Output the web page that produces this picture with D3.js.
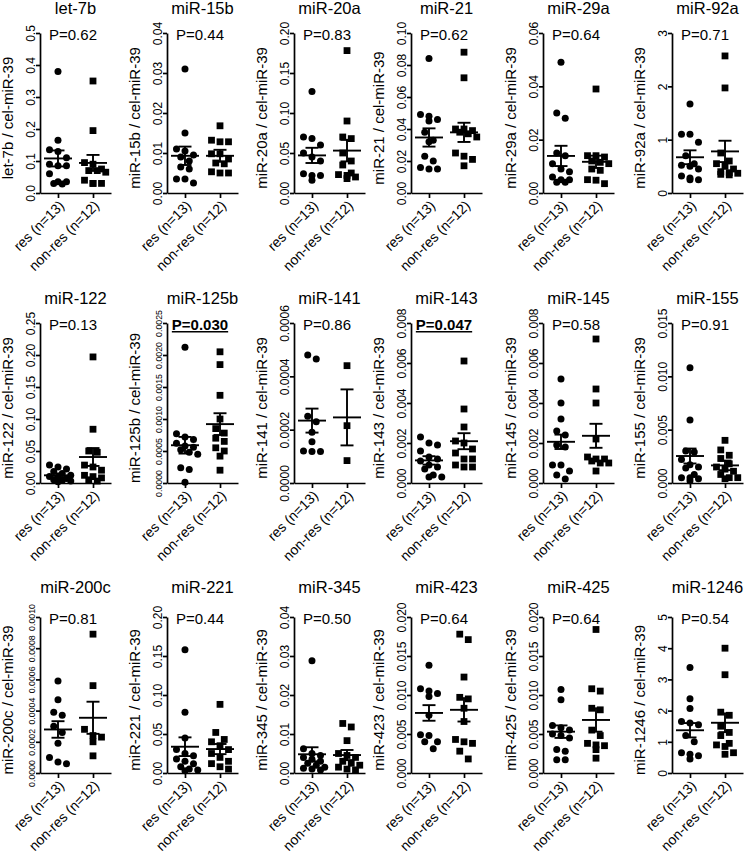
<!DOCTYPE html>
<html><head><meta charset="utf-8">
<script src="https://cdn.jsdelivr.net/npm/d3@7"></script>
<style>
body{margin:0;background:#fff}
text{font-family:"Liberation Sans",Arial,sans-serif;fill:#000}
</style>
</head><body>
<svg id="chart" width="745" height="856"></svg>
<script>
// ---------------- data ----------------
const names = ["let-7b","miR-15b","miR-20a","miR-21","miR-29a","miR-92a",
  "miR-122","miR-125b","miR-141","miR-143","miR-145","miR-155",
  "miR-200c","miR-221","miR-345","miR-423","miR-425","miR-1246"];
const pLabels = ["P=0.62","P=0.44","P=0.83","P=0.62","P=0.64","P=0.71",
  "P=0.13","P=0.030","P=0.86","P=0.047","P=0.58","P=0.91",
  "P=0.81","P=0.44","P=0.50","P=0.64","P=0.64","P=0.54"];
const significant = [false,false,false,false,false,false,
  false,true,false,true,false,false,
  false,false,false,false,false,false];
const groups = ["res (n=13)","non-res (n=12)"];
const yMax  = [0.5,0.04,0.20,0.10,0.06,3, 0.25,0.0025,0.0006,0.008,0.008,0.015, 0.0010,0.20,0.04,0.020,0.020,5];
const yStep = [0.1,0.01,0.05,0.02,0.02,1, 0.05,0.0005,0.0002,0.002,0.002,0.005, 0.0002,0.05,0.01,0.005,0.005,1];
const yFormat = [".1f",".2f",".2f",".2f",".2f","d", ".2f",".4f",".4f",".3f",".3f",".3f", ".4f",".2f",".2f",".3f",".3f","d"];
const smallTicks = [false,false,false,false,false,false, false,true,false,false,false,false, true,false,false,false,false,false];

const resValues = [
  [0.38,0.165,0.135,0.13,0.11,0.09,0.085,0.085,0.06,0.035,0.035,0.03,0.028],
  [0.031,0.015,0.011,0.0105,0.0095,0.009,0.008,0.0065,0.006,0.0035,0.0035,0.0025],
  [0.127,0.07,0.068,0.06,0.05,0.045,0.04,0.024,0.022,0.022,0.016],
  [0.084,0.049,0.048,0.046,0.045,0.038,0.032,0.033,0.023,0.02,0.016,0.015,0.015],
  [0.049,0.03,0.028,0.014,0.015,0.011,0.009,0.008,0.006,0.005,0.005,0.004,0.004],
  [1.67,1.1,1.1,0.95,0.7,0.55,0.52,0.5,0.45,0.32,0.28,0.25,0.25],
  [0.028,0.025,0.022,0.018,0.015,0.012,0.01,0.009,0.007,0.005,0.004,0.003,0.002],
  [0.00212,0.00077,0.00072,0.00068,0.00062,0.00058,0.00056,0.00052,0.00048,0.00045,0.00024,0.00021,0.00001],
  [0.00048,0.000465,0.00025,0.00023,0.00019,0.000155,0.00012,0.000118,0.000118],
  [0.0023,0.002,0.0019,0.0016,0.0013,0.0012,0.0011,0.0009,0.0008,0.0007,0.0004,0.0003,0.0003],
  [0.0052,0.004,0.0032,0.0026,0.0024,0.0019,0.0018,0.0009,0.0009,0.0006,0.0004,0.0002],
  [0.0108,0.0059,0.003,0.0029,0.0022,0.0017,0.0015,0.0014,0.0008,0.0005,0.0005,0.0004,0.0002],
  [0.00059,0.00047,0.00039,0.00037,0.0003,0.00026,0.00019,0.0001,0.00007,0.00006],
  [0.158,0.078,0.045,0.03,0.025,0.022,0.018,0.015,0.012,0.008,0.005,0.004,0.003],
  [0.0288,0.0062,0.005,0.0045,0.004,0.0035,0.003,0.0025,0.002,0.0015,0.0012,0.001,0.0008],
  [0.0138,0.0108,0.0105,0.0102,0.0098,0.0074,0.0049,0.0048,0.004,0.004,0.0031],
  [0.0107,0.0094,0.0061,0.0058,0.0055,0.005,0.0048,0.0045,0.003,0.0028,0.0017,0.0017],
  [3.38,2.38,2.07,1.65,1.6,1.55,1.2,1.0,0.65,0.6,0.55,0.45]
];
const nonresValues = [
  [0.35,0.195,0.095,0.09,0.075,0.07,0.07,0.065,0.04,0.03,0.03,0.03],
  [0.0168,0.0128,0.0128,0.0132,0.0098,0.0098,0.0085,0.0075,0.0073,0.0053,0.005,0.005],
  [0.178,0.09,0.07,0.068,0.05,0.04,0.035,0.025,0.023,0.022,0.02,0.018],
  [0.088,0.072,0.04,0.04,0.039,0.038,0.037,0.035,0.025,0.023,0.021,0.017],
  [0.039,0.014,0.014,0.0135,0.012,0.0115,0.011,0.009,0.0085,0.005,0.0048,0.0035],
  [2.57,1.97,0.75,0.6,0.55,0.5,0.45,0.4,0.38,0.37,0.35,0.34],
  [0.197,0.084,0.05,0.048,0.028,0.025,0.02,0.012,0.01,0.008,0.005,0.003],
  [0.00205,0.00185,0.00137,0.001,0.00085,0.00078,0.0007,0.00065,0.00055,0.0005,0.00042,0.0002],
  [0.00044,0.000215,0.000084],
  [0.0061,0.0037,0.0028,0.0021,0.002,0.0017,0.0015,0.0012,0.0012,0.0009,0.0008,0.0008],
  [0.0072,0.0047,0.004,0.0022,0.0013,0.0012,0.0012,0.0011,0.001,0.001,0.0006],
  [0.004,0.0031,0.0026,0.0023,0.0018,0.0015,0.0013,0.0011,0.0008,0.0005,0.0005,0.0004],
  [0.00089,0.00056,0.00028,0.00024,0.00023,0.0002,0.00011],
  [0.088,0.052,0.043,0.04,0.035,0.03,0.025,0.02,0.015,0.012,0.008,0.005],
  [0.0127,0.0118,0.0083,0.005,0.0045,0.004,0.003,0.0025,0.002,0.0015,0.001,0.0008],
  [0.0178,0.0171,0.0123,0.0097,0.0095,0.0083,0.0066,0.0043,0.004,0.0038,0.0028,0.0018],
  [0.0184,0.0108,0.0105,0.0083,0.0081,0.0055,0.0048,0.0038,0.0036,0.0035,0.003,0.0019],
  [4.0,3.15,1.95,1.85,1.5,1.3,1.2,0.95,0.9,0.85,0.65,0.6]
];
// mean and SEM as drawn in the figure
const resMean = [0.108,0.0093,0.047,0.0347,0.0139,0.67, 0.012,0.00059,0.000234,0.00113,0.00206,0.00253, 0.000279,0.0337,0.0048,0.0077,0.0053,1.37];
const resSem  = [0.025,0.0023,0.0095,0.0057,0.0038,0.13, 0.003,0.00013,0.000045,0.00021,0.00036,0.0007, 0.000053,0.012,0.0018,0.001,0.0008,0.23];
const nonresMean = [0.094,0.0093,0.053,0.0379,0.0117,0.78, 0.0406,0.00092,0.000246,0.00209,0.00236,0.00165, 0.000354,0.0307,0.0046,0.0081,0.0068,1.61];
const nonresSem  = [0.025,0.0015,0.0135,0.006,0.0023,0.2, 0.014,0.00017,0.000105,0.0004,0.0006,0.00045, 0.000103,0.0065,0.0013,0.0015,0.0015,0.3];

// ---------------- layout ----------------
const colX = [40,167,294,411,543,672];
const rowTop = [33,323,617];
const rowBottom = [193,483,773];
const titleY = [14,304,593];
const plotW = 71;
const dotGap = 8.5, maxPerRow = 3;
const FONT = '"Liberation Sans",Arial,sans-serif';

const svg = d3.select("#chart");

function swarm(values, y, cx) {
  const pts = values.map(v => ({v, py: y(v)})).sort((a,b) => a.py - b.py);
  const rows = [];
  let cur = null, shift = 0;
  pts.forEach(p => {
    if (cur && p.py - cur.y0 < dotGap * 0.95) {
      if (cur.pts.length < maxPerRow) { cur.pts.push(p); return; }
      shift = shift ? 0 : dotGap / 2;
    } else shift = 0;
    cur = {y0: p.py, pts: [p], shift};
    rows.push(cur);
  });
  rows.forEach(r => r.pts.forEach((p, i) => {
    p.px = cx + (i - (r.pts.length - 1) / 2) * dotGap + (r.pts.length < maxPerRow ? 0 : r.shift);
  }));
  return pts;
}

names.forEach((name, i) => {
  const row = Math.floor(i / 6), col = i % 6;
  const ax = colX[col], top = rowTop[row], bottom = rowBottom[row];
  const g = svg.append("g");

  const y = d3.scaleLinear().domain([0, yMax[i]]).range([bottom, top]);
  const x = d3.scalePoint().domain(groups).range([ax, ax + plotW]).padding(0.514);

  // title
  g.append("text").attr("x", ax + plotW / 2).attr("y", titleY[row])
    .attr("text-anchor", "middle").style("font-size", "16.5px").text(name);

  // P value
  const pt = g.append("text").attr("x", ax + 33).attr("y", top + 7)
    .attr("text-anchor", "middle").style("font-size", "15px").text(pLabels[i]);
  if (significant[i]) pt.style("font-weight", "bold").style("text-decoration", "underline");

  // y axis
  const ticks = d3.range(0, yMax[i] + yStep[i] / 2, yStep[i]);
  const yAx = g.append("g").attr("transform", `translate(${ax},0)`)
    .call(d3.axisLeft(y).tickValues(ticks).tickFormat(d3.format(yFormat[i])).tickSize(4).tickSizeOuter(0));
  yAx.selectAll("path,line").attr("stroke", "#000").attr("stroke-width", 1.7);
  yAx.selectAll("text").attr("transform", "rotate(-90)").attr("x", 0).attr("y", -5).attr("dy", 0)
    .attr("text-anchor", "middle").attr("fill", "#000").style("font-size", smallTicks[i] ? "8.8px" : "12px")
    .style("font-family", FONT);

  // y label
  g.append("text").attr("transform", `translate(${ax - 32},${(top + bottom) / 2 + 5}) rotate(-90)`)
    .attr("text-anchor", "middle").attr("dy", "0.35em").style("font-size", "15px")
    .text(name + " / cel-miR-39");

  // x axis
  const xAx = g.append("g").attr("transform", `translate(0,${bottom})`)
    .call(d3.axisBottom(x).tickSize(5).tickSizeOuter(0));
  xAx.selectAll("path,line").attr("stroke", "#000").attr("stroke-width", 1.7);
  xAx.selectAll("text").attr("x", 0).attr("y", 0).attr("dy", "0.35em")
    .attr("transform", "translate(3,10) rotate(-45)").attr("text-anchor", "end").attr("fill", "#000")
    .style("font-size", "14px").style("font-family", FONT);

  // points
  const resPts = swarm(resValues[i], y, x(groups[0]));
  g.selectAll(".res").data(resPts).enter().append("circle")
    .attr("cx", d => d.px).attr("cy", d => d.py).attr("r", 3.5).attr("fill", "#000");
  const nonPts = swarm(nonresValues[i], y, x(groups[1]));
  g.selectAll(".non").data(nonPts).enter().append("rect")
    .attr("x", d => d.px - 3.4).attr("y", d => d.py - 3.4).attr("width", 6.8).attr("height", 6.8).attr("fill", "#000");

  // mean ± SEM
  [[groups[0], resMean[i], resSem[i]], [groups[1], nonresMean[i], nonresSem[i]]].forEach(([grp, m, s]) => {
    const cx = x(grp);
    const gg = g.append("g").attr("stroke", "#000").attr("stroke-width", 1.9);
    gg.append("line").attr("x1", cx - 14).attr("x2", cx + 14).attr("y1", y(m)).attr("y2", y(m));
    gg.append("line").attr("x1", cx).attr("x2", cx).attr("y1", y(m - s)).attr("y2", y(m + s));
    gg.append("line").attr("x1", cx - 6.5).attr("x2", cx + 6.5).attr("y1", y(m + s)).attr("y2", y(m + s));
    gg.append("line").attr("x1", cx - 6.5).attr("x2", cx + 6.5).attr("y1", y(m - s)).attr("y2", y(m - s));
  });
});
</script>
</body></html>
